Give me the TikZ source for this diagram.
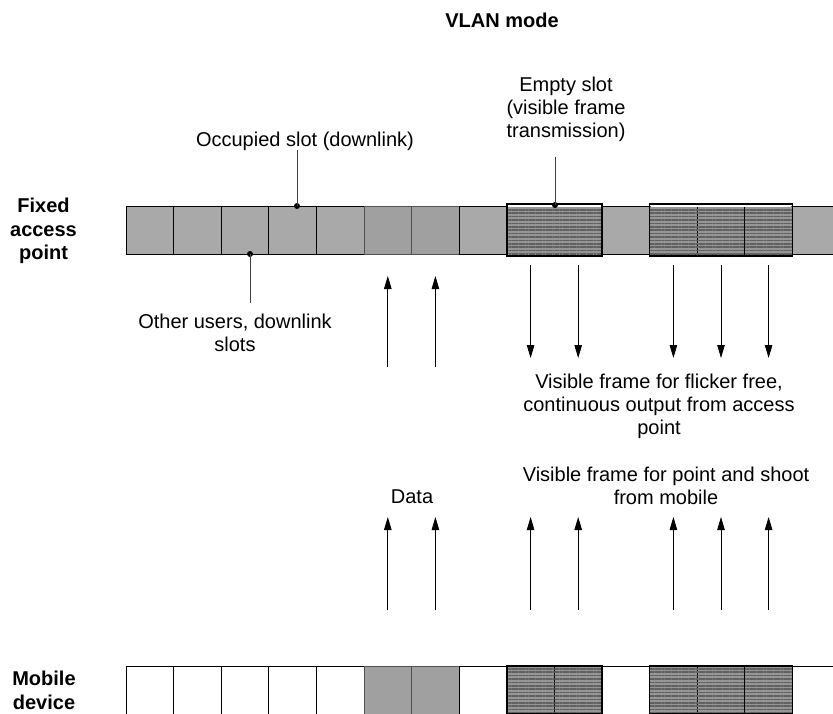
\documentclass[tikz,border=0pt]{standalone}
\usepackage{fontspec}
\setmainfont{Liberation Sans}
\usetikzlibrary{arrows.meta,patterns.meta}

\definecolor{slotgray}{RGB}{169,169,169}
\definecolor{datagray}{RGB}{162,162,162}
\definecolor{hatchbase}{RGB}{150,150,150}
\definecolor{hatchline}{RGB}{96,96,96}

\begin{document}
\begin{tikzpicture}[x=1pt, y=-1pt,
    slotbox/.style={draw=black, line width=0.9pt, minimum width=47.6pt, minimum height=48pt, inner sep=0pt, outer sep=0pt},
    occupied/.style={slotbox, fill=slotgray},
    datasl/.style={slotbox, draw=black!70, fill=datagray, postaction={pattern={Dots[distance=2pt, radius=0.35pt]}, pattern color=black!45}},
    emptysl/.style={slotbox, fill=hatchbase, postaction={pattern={Lines[angle=0, distance=3.4pt, line width=1.5pt]}, pattern color=hatchline}},
    opensl/.style={emptysl, draw=none},
    freesl/.style={slotbox, fill=white},
    groupframe/.style={draw=black, line width=1.6pt},
    topgap/.style={draw=white, line width=1.2pt},
    note/.style={font=\fontsize{20}{23}\selectfont, align=center, inner sep=0pt},
    sidetext/.style={font=\fontsize{20}{23.5}\selectfont\bfseries, align=center, inner sep=0pt},
    leader/.style={line width=0.8pt, black!75},
    dot/.style={circle, fill=black, inner sep=0pt, minimum size=6pt},
    flow/.style={->, line width=0.8pt},
    >={Triangle[length=13pt, width=7.5pt]}
]
    \useasboundingbox (0,0) rectangle (833,713);
    \clip (0,0) rectangle (833,713);

    % Title
    \node[font=\fontsize{20}{23}\selectfont\bfseries, inner sep=0pt, anchor=base] (title) at (502,27) {VLAN mode};

    % Fixed access point slots
    \foreach \s [count=\i from 0] in {occupied,occupied,occupied,occupied,occupied,datasl,datasl,occupied,opensl,opensl,occupied,emptysl,emptysl,emptysl,occupied}
        \node[style=\s] (ap\i) at (149.8+47.6*\i, 230) {};
    \draw[topgap] ([xshift=1pt]ap8.north west) -- ([xshift=-1pt]ap9.north east);
    \draw[topgap] ([xshift=1pt]ap11.north west) -- ([xshift=-1pt]ap13.north east);
    \draw[groupframe] ([yshift=2pt]ap8.north west) rectangle ([yshift=-2pt]ap9.south east);
    \draw[groupframe] ([yshift=2pt]ap11.north west) rectangle ([yshift=-2pt]ap13.south east);

    % Mobile device slots
    \foreach \s [count=\i from 0] in {freesl,freesl,freesl,freesl,freesl,datasl,datasl,freesl,emptysl,emptysl,freesl,emptysl,emptysl,emptysl,freesl}
        \node[style=\s] (md\i) at (149.8+47.6*\i, 690) {};
    \draw[groupframe] (md8.north west) rectangle (md9.south east);
    \draw[groupframe] (md11.north west) rectangle (md13.south east);

    % Side labels
    \node[sidetext, anchor=north] (aplabel) at (43.5,198) {Fixed\\access\\point};
    \node[sidetext, anchor=north] (mdlabel) at (44,671) {Mobile\\device};

    % Callouts
    \node[note, anchor=base] (occtxt) at (305,146) {Occupied slot (downlink)};
    \node[dot] (occdot) at (297,206) {};
    \draw[leader] (occdot.center) -- (occdot.center |- occtxt.south);

    \node[note, anchor=north] (emptytxt) at (566,77) {Empty slot\\(visible frame\\transmission)};
    \node[dot] (emptydot) at (555,205) {};
    \coordinate (emptyend) at (555,157);
    \draw[leader] (emptydot.center) -- (emptyend);

    \node[note, anchor=north] (othertxt) at (235,314) {Other users, downlink\\slots};
    \node[dot] (otherdot) at (250,254) {};
    \coordinate (otherend) at (250,303);
    \draw[leader] (otherdot.center) -- (otherend);

    % Arrows between the bars
    \foreach \i in {5,6}
        \draw[flow] ([yshift=-113pt]ap\i.south) -- ([yshift=-22pt]ap\i.south);
    \foreach \i in {8,9,11,12,13}
        \draw[flow] ([yshift=-11pt]ap\i.south) -- ([yshift=-104pt]ap\i.south);
    \foreach \i in {5,6,8,9,11,12,13}
        \draw[flow] ([yshift=56pt]md\i.north) -- ([yshift=149pt]md\i.north);

    \node[note, anchor=north] (flickertxt) at (659,374) {Visible frame for flicker free,\\continuous output from access\\point};
    \node[note, anchor=base] (datatxt) at (412,503) {Data};
    \node[note, anchor=north] (shoottxt) at (666,467) {Visible frame for point and shoot\\from mobile};
\end{tikzpicture}
\end{document}
